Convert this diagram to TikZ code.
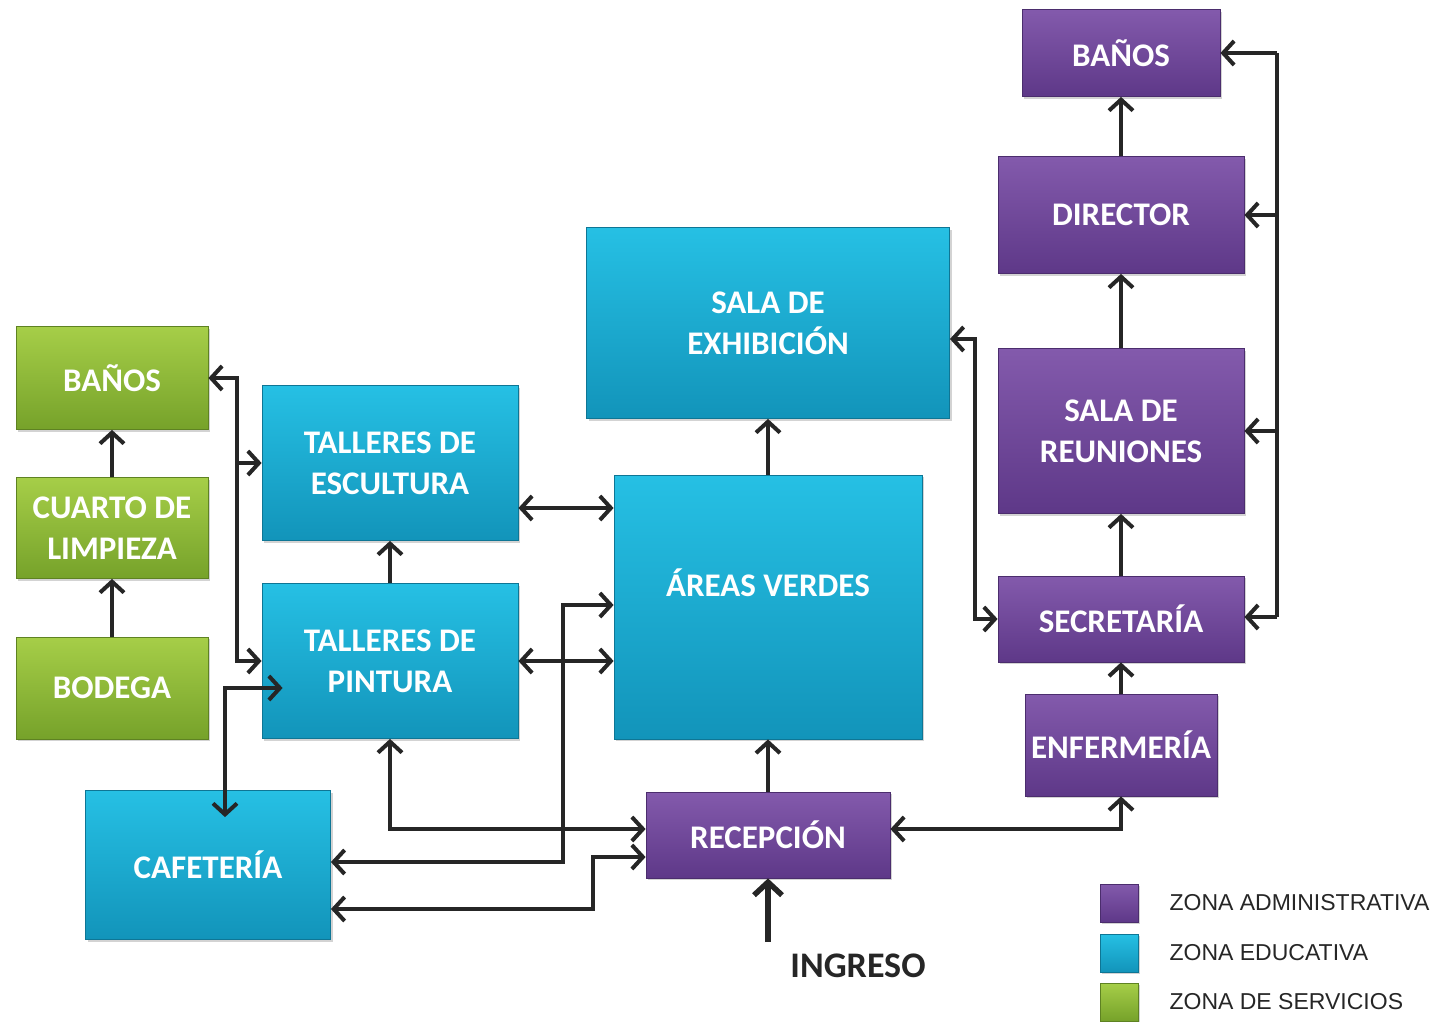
\documentclass[tikz,border=0pt]{standalone}
\usepackage{fontspec}
\setmainfont{Carlito}
\newfontfamily\leyendafont{Liberation Sans}
\usepackage{tikz}
\usetikzlibrary{positioning}
\usetikzlibrary{calc}
\usetikzlibrary{arrows.meta}
\usetikzlibrary{shadows}

\definecolor{moradoA}{RGB}{131,90,172}
\definecolor{moradoB}{RGB}{94,56,136}
\definecolor{celesteA}{RGB}{38,192,228}
\definecolor{celesteB}{RGB}{18,148,186}
\definecolor{verdeA}{RGB}{166,206,72}
\definecolor{verdeB}{RGB}{118,162,42}

\begin{document}
\begin{tikzpicture}
		[
			x = 1pt, y = -1pt,
			zona/.style = {rectangle, inner sep = 0pt, align = center, text = white, font = \fontsize{33}{41}\selectfont\bfseries, drop shadow = {opacity = 0.35, shadow xshift = 2pt, shadow yshift = -2pt}},
			admin/.style = {zona, top color = moradoA, bottom color = moradoB, draw = moradoB!80!black, line width = 0.8pt},
			educ/.style = {zona, top color = celesteA, bottom color = celesteB, draw = celesteB!80!black, line width = 0.8pt},
			serv/.style = {zona, top color = verdeA, bottom color = verdeB, draw = verdeB!80!black, line width = 0.8pt},
			cuadro/.style = {minimum size = 38pt, font = \fontsize{1}{1}\selectfont},
			leyendatexto/.style = {inner sep = 3pt, font = \leyendafont\fontsize{23}{26}\selectfont, text = black!85},
			linea/.style = {line width = 4pt, black!85},
			flecha/.style = {linea, -{Straight Barb[length = 11pt, width = 24pt, line width = 4pt]}},
			dflecha/.style = {linea, {Straight Barb[length = 11pt, width = 24pt, line width = 4pt]}-{Straight Barb[length = 11pt, width = 24pt, line width = 4pt]}},
			ingresoflecha/.style = {line width = 5.5pt, black!85, -{Straight Barb[length = 13pt, width = 28pt, line width = 5.5pt]}},
		]
			\useasboundingbox (0,0) rectangle (1439,1021);
			%
			% zona administrativa
			\node (banosA) [admin, minimum width = 198pt, minimum height = 87pt] at (1121,53) {BAÑOS};
			\node (director) [admin, minimum width = 246pt, minimum height = 117pt] at (1121,215) {DIRECTOR};
			\node (reuniones) [admin, minimum width = 246pt, minimum height = 165pt] at (1121,431) {SALA DE\\REUNIONES};
			\node (secretaria) [admin, minimum width = 246pt, minimum height = 86pt] at (1121,619) {SECRETARÍA};
			\node (enfermeria) [admin, minimum width = 192pt, minimum height = 102pt] at (1121,745) {ENFERMERÍA};
			\node (recepcion) [admin, minimum width = 244pt, minimum height = 86pt] at (768,835) {RECEPCIÓN};
			%
			% zona educativa
			\node (exhibicion) [educ, minimum width = 363pt, minimum height = 191pt, execute at begin node = \vspace*{18pt}] at (768,323) {SALA DE\\EXHIBICIÓN};
			\node (areas) [educ, minimum width = 308pt, minimum height = 264pt, text depth = 48pt] at (768,607) {ÁREAS VERDES};
			\node (escultura) [educ, minimum width = 256pt, minimum height = 155pt] at (390,463) {TALLERES DE\\ESCULTURA};
			\node (pintura) [educ, minimum width = 256pt, minimum height = 155pt] at (390,661) {TALLERES DE\\PINTURA};
			\node (cafeteria) [educ, minimum width = 245pt, minimum height = 149pt] at (208,865) {CAFETERÍA};
			%
			% zona de servicios
			\node (banosS) [serv, minimum width = 192pt, minimum height = 103pt] at (112,378) {BAÑOS};
			\node (cuarto) [serv, minimum width = 192pt, minimum height = 101pt] at (112,528) {CUARTO DE\\LIMPIEZA};
			\node (bodega) [serv, minimum width = 192pt, minimum height = 102pt] at (112,688) {BODEGA};
			%
			% ingreso
			\node (ingreso) [font = \fontsize{36}{40}\selectfont\bfseries, text = black!85] at (858,966) {INGRESO};
			\coordinate (entrada) at (768,942);
			\draw [ingresoflecha] (entrada) -- (recepcion.south);
			%
			% administracion
			\draw [flecha] (director) -- (banosA);
			\draw [flecha] (reuniones) -- (director);
			\draw [flecha] (secretaria) -- (reuniones);
			\draw [flecha] (enfermeria) -- (secretaria);
			%
			\coordinate (busA) at (1277,53);
			\coordinate (busB) at (1277,617);
			\draw [linea] (busA) -- (busB);
			\draw [flecha] (busA) -- (banosA);
			\draw [flecha] (busA |- director) -- (director);
			\draw [flecha] (busA |- reuniones) -- (reuniones);
			\draw [flecha] (busB) -- (busB -| secretaria.east);
			%
			\draw [dflecha] ([yshift = -16pt]exhibicion.east) -- ++(25,0) |- (secretaria.west);
			\draw [dflecha] ([yshift = 6pt]recepcion.east) -| (enfermeria.south);
			%
			% educativa
			\draw [flecha] (areas) -- (exhibicion);
			\draw [flecha] (recepcion) -- (areas);
			\draw [flecha] (pintura) -- (escultura);
			%
			\coordinate (esc) at ($(escultura.east)+(0,45)$);
			\draw [dflecha] (esc) -- (esc -| areas.west);
			\draw [dflecha] (pintura.east) -- (pintura.east -| areas.west);
			\draw [dflecha] (pintura.south) |- ([yshift = 6pt]recepcion.west);
			\draw [dflecha] ([yshift = 3pt]cafeteria.east) -- ++(232,0) |- ([yshift = 2pt]areas.west);
			\draw [dflecha] ([yshift = -22pt]recepcion.west) -- ++(-53,0) |- ([yshift = -44pt]cafeteria.east);
			\draw [dflecha] ([xshift = 17pt, yshift = -27pt]cafeteria.north) |- ([xshift = 21pt, yshift = -27pt]pintura.west);
			%
			% servicios
			\draw [flecha] (cuarto) -- (banosS);
			\draw [flecha] (bodega) -- (cuarto);
			\coordinate (bs) at ($(banosS.east)+(29,0)$);
			\draw [dflecha] (banosS.east) -- (bs) |- (pintura.west);
			\draw [flecha] (bs |- escultura.west) -- (escultura.west);
			%
			% leyenda
			\node (legA) [admin, cuadro] at (1119,903) {};
			\node (legB) [educ, cuadro] at (1119,953) {};
			\node (legC) [serv, cuadro] at (1119,1002) {};
			\node (txtA) [leyendatexto, right = 28pt of legA] {ZONA ADMINISTRATIVA};
			\node (txtB) [leyendatexto, right = 28pt of legB] {ZONA EDUCATIVA};
			\node (txtC) [leyendatexto, right = 28pt of legC] {ZONA DE SERVICIOS};
			%
		\end{tikzpicture}
\end{document}
